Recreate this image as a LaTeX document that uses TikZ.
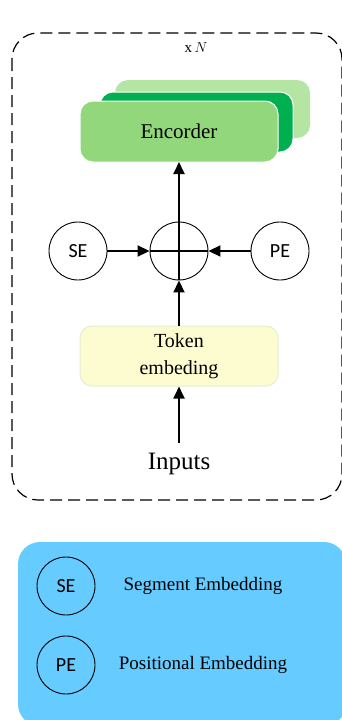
\documentclass[tikz,border=0pt]{standalone}
\usepackage{fontspec}
\setmainfont{Liberation Serif}
\newfontfamily\labelfont{Carlito}
\usetikzlibrary{arrows.meta}
\definecolor{encback}{HTML}{B5E5A2}
\definecolor{encmid}{HTML}{00B050}
\definecolor{encfront}{HTML}{92D77C}
\definecolor{tokfill}{HTML}{FDFCD0}
\definecolor{tokline}{HTML}{E6ECD6}
\definecolor{legendfill}{HTML}{66CCFF}
\tikzset{
  x=1pt, y=-1pt,
  arr/.style={line width=1.8pt, -{Triangle[length=12pt,width=11pt]}},
  emb/.style={circle, draw, line width=0.9pt, minimum size=58pt, inner sep=0pt,
    font=\labelfont\fontsize{20}{22}\selectfont},
  layer/.style={rounded corners=13pt, draw=white, line width=1pt},
  legtext/.style={font=\fontsize{19}{22}\selectfont},
}
\begin{document}
\begin{tikzpicture}
\useasboundingbox (0,0) rectangle (342,720);
\clip (0,0) rectangle (342,720);

% outer dashed frame
\draw[dashed, dash pattern=on 12pt off 6pt, line width=1.2pt, rounded corners=26pt]
  (12,33) rectangle (342,500);
\node[font=\fontsize{15}{17}\selectfont] (rep) at (196,48) {x\,$N$};

% stacked encoder layers
\fill[encback, rounded corners=13pt] (115,80) rectangle (310,138);
\filldraw[layer, fill=encmid] (100,92) rectangle (293,152);
\filldraw[layer, fill=encfront] (80,101) rectangle (278,162);
\node[font=\fontsize{21}{24}\selectfont] (enc) at (179,131) {Encorder};
\coordinate (encb) at (179,162);

% summation node
\node[circle, draw, line width=0.9pt, minimum size=58pt, inner sep=0pt] (sum) at (179,251) {};
\node[emb] (se) at (78,251) {SE};
\node[emb] (pe) at (280,251) {PE};

% token embedding box
\node[rounded corners=12pt, draw=tokline, fill=tokfill, line width=1pt,
  minimum width=198pt, minimum height=60pt, align=center,
  font=\fontsize{20}{27}\selectfont] (tok) at (179,356) {Token\\embeding};
\node[font=\fontsize{25}{28}\selectfont] (inp) at (179,464) {Inputs};

% connectors
\draw[line width=1.8pt] (sum.west) -- (sum.east);
\draw[arr] (sum.center) -- (encb);
\draw[line width=1.8pt] (sum.south) -- (sum.center);
\draw[arr] (se.east) -- (sum.west);
\draw[arr] (pe.west) -- (sum.east);
\draw[arr] (tok.north) -- (sum.south);
\draw[arr] (inp.north) ++(0,-7) coordinate (inpt) (inpt) -- (tok.south);

% legend
\fill[legendfill, rounded corners=22pt] (18,542) rectangle (346,726);
\node[emb] (lse) at (66,586) {SE};
\node[emb] (lpe) at (66,665) {PE};
\node[legtext] (lset) at (203,586) {Segment Embedding};
\node[legtext] (lpet) at (203,665) {Positional Embedding};
\end{tikzpicture}
\end{document}
